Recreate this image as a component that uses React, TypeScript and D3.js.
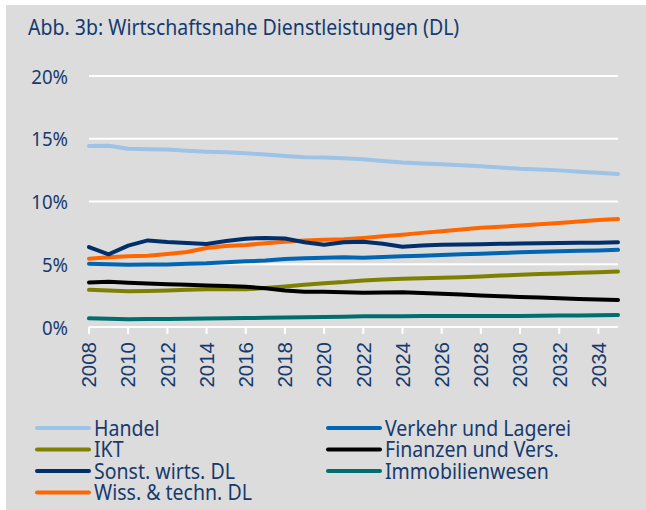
import React, { useEffect, useRef } from 'react';
import * as d3 from 'd3';

const years = d3.range(2008, 2036);

const handel = [14.42, 14.45, 14.2, 14.17, 14.15, 14.05, 13.97, 13.92, 13.84, 13.75, 13.62, 13.52, 13.5, 13.45, 13.36, 13.22, 13.1, 13.03, 12.96, 12.88, 12.8, 12.7, 12.6, 12.54, 12.48, 12.38, 12.3, 12.2];
const verkehr = [5.04, 5.0, 4.96, 4.98, 4.99, 5.03, 5.07, 5.15, 5.23, 5.3, 5.42, 5.48, 5.52, 5.55, 5.52, 5.58, 5.63, 5.68, 5.73, 5.79, 5.84, 5.9, 5.95, 5.99, 6.03, 6.07, 6.1, 6.15];
const ikt = [2.96, 2.9, 2.85, 2.87, 2.9, 2.96, 3.0, 3.0, 3.0, 3.1, 3.23, 3.36, 3.49, 3.58, 3.71, 3.79, 3.84, 3.88, 3.92, 3.97, 4.03, 4.1, 4.16, 4.22, 4.27, 4.32, 4.37, 4.42];
const finanzen = [3.55, 3.6, 3.52, 3.46, 3.41, 3.36, 3.31, 3.26, 3.2, 3.09, 2.91, 2.8, 2.8, 2.76, 2.72, 2.74, 2.77, 2.7, 2.64, 2.58, 2.51, 2.46, 2.4, 2.35, 2.29, 2.24, 2.19, 2.15];
const sonst = [6.37, 5.79, 6.48, 6.9, 6.77, 6.7, 6.61, 6.85, 7.04, 7.1, 7.05, 6.75, 6.55, 6.75, 6.8, 6.64, 6.4, 6.5, 6.55, 6.58, 6.6, 6.63, 6.65, 6.68, 6.7, 6.71, 6.72, 6.75];
const immo = [0.69, 0.65, 0.62, 0.63, 0.64, 0.66, 0.67, 0.7, 0.72, 0.73, 0.75, 0.78, 0.8, 0.82, 0.85, 0.85, 0.85, 0.87, 0.88, 0.88, 0.88, 0.88, 0.88, 0.9, 0.91, 0.92, 0.93, 0.95];
const wiss = [5.44, 5.55, 5.63, 5.68, 5.81, 5.97, 6.29, 6.45, 6.53, 6.67, 6.8, 6.9, 6.95, 7.0, 7.1, 7.23, 7.36, 7.5, 7.63, 7.77, 7.9, 7.99, 8.08, 8.18, 8.29, 8.41, 8.53, 8.6];

const seriesNames = ['Handel', 'Verkehr und Lagerei', 'IKT', 'Finanzen und Vers.', 'Sonst. wirts. DL', 'Immobilienwesen', 'Wiss. & techn. DL'];
const seriesValues = [handel, verkehr, ikt, finanzen, sonst, immo, wiss];
const seriesColors = ['#9dc3e6', '#0066b3', '#7f7f00', '#000000', '#002f6c', '#006e6e', '#ff6600'];
// drawing order, so the dark lines sit on top like in the original
const drawOrder = [0, 2, 3, 5, 1, 6, 4];

const yTicks = [0, 5, 10, 15, 20];
const xTicks = d3.range(2008, 2035, 2);

const title = 'Abb. 3b: Wirtschaftsnahe Dienstleistungen (DL)';
const textColor = '#163a6e';
const font = '"Noto Sans", sans-serif';
const squeeze = 0.93; // the original font is a bit narrower

export default function App() {
  const ref = useRef<SVGSVGElement | null>(null);

  useEffect(() => {
    document.body.style.margin = '0';
    const width = 646;
    const height = 510;
    const svg = d3.select(ref.current).attr('width', width).attr('height', height);
    svg.selectAll('*').remove();

    svg.append('rect').attr('width', width).attr('height', height).attr('fill', '#ffffff');
    svg.append('rect').attr('x', 6).attr('y', 5).attr('width', width - 6).attr('height', height - 5).attr('fill', '#dcdcdc');

    svg.append('text')
      .attr('transform', `translate(28,35) scale(${squeeze},1)`)
      .attr('fill', textColor)
      .style('font-family', font)
      .style('font-size', '21px')
      .text(title);

    const x = d3.scaleLinear().domain([2008, 2035]).range([89, 618]);
    const y = d3.scaleLinear().domain([0, 20]).range([327, 76]);

    // gridlines
    svg.append('g')
      .selectAll('line')
      .data(yTicks)
      .join('line')
      .attr('x1', x(2008))
      .attr('x2', x(2035))
      .attr('y1', (d) => y(d))
      .attr('y2', (d) => y(d))
      .attr('stroke', '#ffffff')
      .attr('stroke-width', 2);

    svg.append('g')
      .selectAll('text')
      .data(yTicks)
      .join('text')
      .attr('transform', (d) => `translate(68,${y(d) + 7.5}) scale(${squeeze},1)`)
      .attr('text-anchor', 'end')
      .attr('fill', textColor)
      .style('font-family', font)
      .style('font-size', '20px')
      .text((d) => `${d}%`);

    // x ticks
    svg.append('g')
      .selectAll('line')
      .data(xTicks)
      .join('line')
      .attr('x1', (d) => x(d))
      .attr('x2', (d) => x(d))
      .attr('y1', y(0))
      .attr('y2', y(0) + 7)
      .attr('stroke', '#ffffff')
      .attr('stroke-width', 2);

    svg.append('g')
      .selectAll('text')
      .data(xTicks)
      .join('text')
      .attr('transform', (d) => `translate(${x(d) + 7.3},${y(0) + 15}) rotate(-90)`)
      .attr('text-anchor', 'end')
      .attr('fill', textColor)
      .style('font-family', '"Liberation Sans", Arial, sans-serif')
      .style('font-size', '20.5px')
      .text((d) => d);

    const line = d3.line<number>()
      .x((_, i) => x(years[i]))
      .y((d) => y(d));

    svg.append('g')
      .selectAll('path')
      .data(drawOrder)
      .join('path')
      .attr('d', (i) => line(seriesValues[i]))
      .attr('fill', 'none')
      .attr('stroke', (i) => seriesColors[i])
      .attr('stroke-width', 4)
      .attr('stroke-linecap', 'round')
      .attr('stroke-linejoin', 'round');

    // legend
    const legend = svg.append('g');
    seriesNames.forEach((name, i) => {
      const col = i % 2;
      const row = Math.floor(i / 2);
      const lx = col === 0 ? 37 : 328;
      const ly = 428 + row * 21.5;
      const g = legend.append('g').attr('transform', `translate(${lx},${ly})`);
      g.append('line')
        .attr('x1', 0)
        .attr('x2', 52)
        .attr('stroke', seriesColors[i])
        .attr('stroke-width', 4)
        .attr('stroke-linecap', 'round');
      g.append('text')
        .attr('transform', `translate(57,7.5) scale(${squeeze},1)`)
        .attr('fill', textColor)
        .style('font-family', font)
        .style('font-size', '21px')
        .text(name);
    });
  }, []);

  return <svg ref={ref} style={{ display: 'block' }}></svg>;
}
